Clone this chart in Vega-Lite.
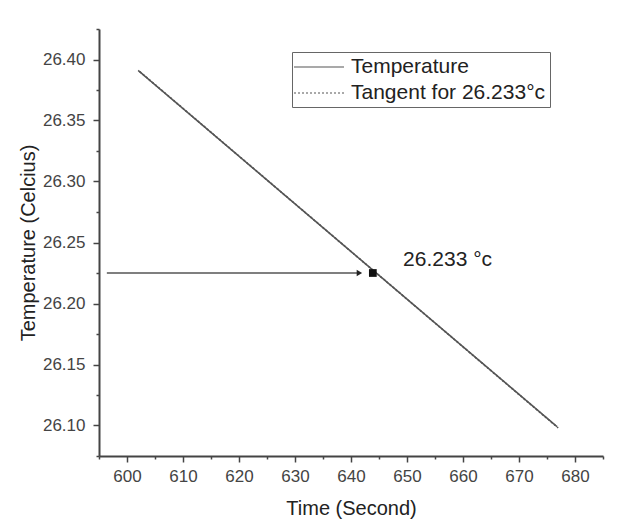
{
  "$schema": "https://vega.github.io/schema/vega-lite/v6.json",
  "width": 504,
  "height": 427,
  "autosize": {"type": "none"},
  "padding": {"left": 99, "top": 29, "right": 23, "bottom": 68},
  "background": "white",
  "config": {
    "view": {"stroke": null},
    "font": "Liberation Sans",
    "axis": {
      "grid": false,
      "domainColor": "#444",
      "domainWidth": 2,
      "tickColor": "#444",
      "tickWidth": 1.5,
      "labelColor": "#444",
      "labelFont": "Liberation Sans",
      "labelFontSize": 17,
      "titleFont": "Liberation Sans",
      "titleFontSize": 20,
      "titleFontWeight": "normal",
      "titleColor": "#222",
      "labelOverlap": false,
      "tickCount": 100
    }
  },
  "datasets": {
    "lines": [
      {"series": "Temperature", "time": 602.0, "temp": 26.391},
      {"series": "Temperature", "time": 644.0, "temp": 26.227},
      {"series": "Temperature", "time": 676.8, "temp": 26.099},
      {"series": "Tangent for 26.233°c", "time": 602.3, "temp": 26.390},
      {"series": "Tangent for 26.233°c", "time": 677.0, "temp": 26.098}
    ],
    "arrow": [{"x1": 596.4, "x2": 641.5, "temp": 26.225}],
    "marker": [{"time": 643.9, "temp": 26.225}],
    "label": [{"time": 649.3, "temp": 26.236, "text": "26.233 °c"}]
  },
  "layer": [
    {
      "data": {"name": "lines"},
      "mark": {"type": "line", "strokeWidth": 1.6, "color": "#555"},
      "encoding": {
        "x": {
          "field": "time", "type": "quantitative",
          "scale": {"domain": [595, 685], "nice": false, "zero": false},
          "axis": {
            "title": "Time (Second)",
            "values": [595, 600, 605, 610, 615, 620, 625, 630, 635, 640, 645, 650, 655, 660, 665, 670, 675, 680, 685],
            "tickCount": 100,
            "format": "d",
            "labelExpr": "datum.value % 10 == 0 ? datum.label : ''",
            "tickSize": {"condition": {"test": "datum.value % 10 == 0", "value": 6}, "value": 3},
            "labelPadding": 6,
            "titlePadding": 14
          }
        },
        "y": {
          "field": "temp", "type": "quantitative",
          "scale": {"domain": [26.075, 26.425], "nice": false, "zero": false},
          "axis": {
            "title": "Temperature (Celcius)",
            "values": [26.075, 26.1, 26.125, 26.15, 26.175, 26.2, 26.225, 26.25, 26.275, 26.3, 26.325, 26.35, 26.375, 26.4, 26.425],
            "tickCount": 100,
            "format": ".2f",
            "labelExpr": "round(datum.value * 1000) % 50 == 0 ? datum.label : ''",
            "tickSize": {"condition": {"test": "round(datum.value * 1000) % 50 == 0", "value": 6}, "value": 3},
            "labelPadding": 8,
            "titlePadding": 4
          }
        },
        "detail": {"field": "series"},
        "strokeDash": {
          "field": "series", "type": "nominal",
          "scale": {"domain": ["Temperature", "Tangent for 26.233°c"], "range": [[1, 0], [2, 2]]},
          "legend": {
            "title": null,
            "orient": "none",
            "legendX": 193,
            "legendY": 23,
            "symbolType": "M-2.5,0H2.5",
            "symbolSize": 400,
            "symbolOffset": 12,
            "symbolStrokeColor": "#555",
            "symbolStrokeWidth": 1.2,
            "labelFont": "Liberation Sans",
            "labelFontSize": 21,
            "labelColor": "#222",
            "labelOffset": 21,
            "labelLimit": 400,
            "rowPadding": 5,
            "strokeColor": "#666",
            "padding": 4
          }
        }
      }
    },
    {
      "data": {"name": "arrow"},
      "mark": {"type": "rule", "color": "#555", "strokeWidth": 1.5},
      "encoding": {
        "x": {"field": "x1", "type": "quantitative"},
        "x2": {"field": "x2"},
        "y": {"field": "temp", "type": "quantitative"}
      }
    },
    {
      "data": {"name": "arrow"},
      "mark": {"type": "point", "shape": "triangle-right", "filled": true, "color": "#222", "size": 40, "opacity": 1},
      "encoding": {
        "x": {"field": "x2", "type": "quantitative"},
        "y": {"field": "temp", "type": "quantitative"}
      }
    },
    {
      "data": {"name": "marker"},
      "mark": {"type": "point", "shape": "square", "filled": true, "color": "#111", "size": 60, "opacity": 1},
      "encoding": {
        "x": {"field": "time", "type": "quantitative"},
        "y": {"field": "temp", "type": "quantitative"}
      }
    },
    {
      "data": {"name": "label"},
      "mark": {"type": "text", "align": "left", "baseline": "middle", "font": "Liberation Sans", "fontSize": 21, "color": "#222"},
      "encoding": {
        "x": {"field": "time", "type": "quantitative"},
        "y": {"field": "temp", "type": "quantitative"},
        "text": {"field": "text"}
      }
    }
  ]
}
